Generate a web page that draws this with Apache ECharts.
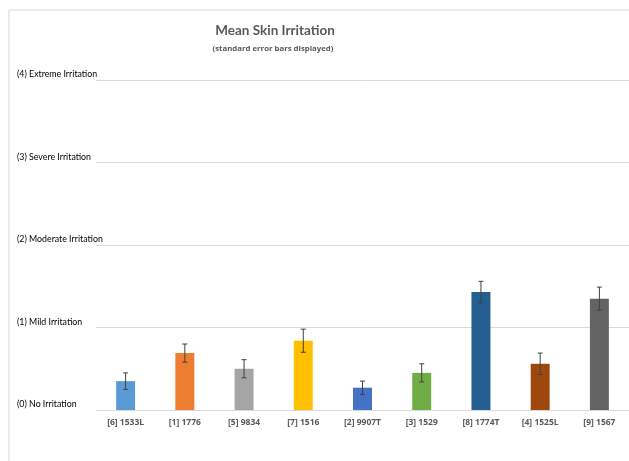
<!DOCTYPE html>
<html>
<head>
<meta charset="utf-8">
<script src="https://cdn.jsdelivr.net/npm/echarts@6/dist/echarts.min.js"></script>
<style>
  html, body { margin: 0; padding: 0; background: #fff; }
  #chart { width: 629px; height: 461px; }
</style>
</head>
<body>
<div id="chart"></div>
<script>
var categories = ['[6] 1533L', '[1] 1776', '[5] 9834', '[7] 1516', '[2] 9907T', '[3] 1529', '[8] 1774T', '[4] 1525L', '[9] 1567'];
var means = [0.35, 0.69, 0.50, 0.84, 0.27, 0.45, 1.43, 0.56, 1.35];
var stdErr = [0.10, 0.11, 0.11, 0.14, 0.08, 0.11, 0.13, 0.13, 0.14];
var yLabels = ['(0) No Irritation', '(1) Mild Irritation', '(2) Moderate Irritation', '(3) Severe Irritation', '(4) Extreme Irritation'];
var barColors = ['#5B9BD5', '#ED7D31', '#A5A5A5', '#FFC000', '#4472C4', '#70AD47', '#255E91', '#9E480E', '#636363'];

var chart = echarts.init(document.getElementById('chart'));

var barData = means.map(function (v, i) {
    return { value: v, itemStyle: { color: barColors[i] } };
});
var errData = means.map(function (v, i) {
    return [i, v - stdErr[i], v + stdErr[i]];
});

var option = {
    animation: false,
    backgroundColor: '#fff',
    title: [{
        text: 'Mean Skin Irritation',
        left: 270,
        top: 19,
        textAlign: 'center',
        textStyle: { fontFamily: 'Lato', fontSize: 13.5, fontWeight: 'bold', color: '#595959' }
    }, {
        text: '(standard error bars displayed)',
        left: 268,
        top: 40,
        textAlign: 'center',
        textStyle: { fontFamily: 'Open Sans', fontSize: 7.8, fontWeight: 'bold', color: '#595959' }
    }],
    graphic: [{
        type: 'rect',
        shape: { x: 9, y: 10, width: 700, height: 600 },
        style: { fill: 'none', stroke: '#D9D9D9', lineWidth: 1 },
        silent: true,
        z: -1
    }],
    grid: { left: 96, top: 80, width: 534, bottom: 51 },
    xAxis: {
        type: 'category',
        data: categories,
        axisTick: { show: false },
        axisLine: { lineStyle: { color: '#D9D9D9', width: 1 } },
        axisLabel: {
            interval: 0,
            margin: 8,
            fontFamily: 'Open Sans',
            fontSize: 8.5,
            fontWeight: 'bold',
            color: '#595959'
        }
    },
    yAxis: {
        type: 'value',
        min: 0,
        max: 4,
        interval: 1,
        axisLine: { show: false },
        axisTick: { show: false },
        splitLine: { lineStyle: { color: '#D9D9D9', width: 1 } },
        axisLabel: {
            align: 'left',
            verticalAlign: 'bottom',
            margin: 79,
            padding: [0, 0, 1, 0],
            fontFamily: 'Lato',
            fontSize: 8.8,
            color: '#000',
            formatter: function (v) {
                return yLabels[v] || '';
            }
        }
    },
    series: [{
        type: 'bar',
        data: barData,
        barWidth: '32%'
    }, {
        type: 'custom',
        data: errData,
        z: 5,
        renderItem: function (params, api) {
            var x = api.value(0);
            var lo = api.coord([x, api.value(1)]);
            var hi = api.coord([x, api.value(2)]);
            var cap = 2.5;
            var st = { stroke: '#404040', lineWidth: 1 };
            return {
                type: 'group',
                children: [
                    { type: 'line', shape: { x1: lo[0], y1: lo[1], x2: hi[0], y2: hi[1] }, style: st },
                    { type: 'line', shape: { x1: lo[0] - cap, y1: lo[1], x2: lo[0] + cap, y2: lo[1] }, style: st },
                    { type: 'line', shape: { x1: hi[0] - cap, y1: hi[1], x2: hi[0] + cap, y2: hi[1] }, style: st }
                ]
            };
        }
    }]
};
chart.setOption(option);
</script>
</body>
</html>
